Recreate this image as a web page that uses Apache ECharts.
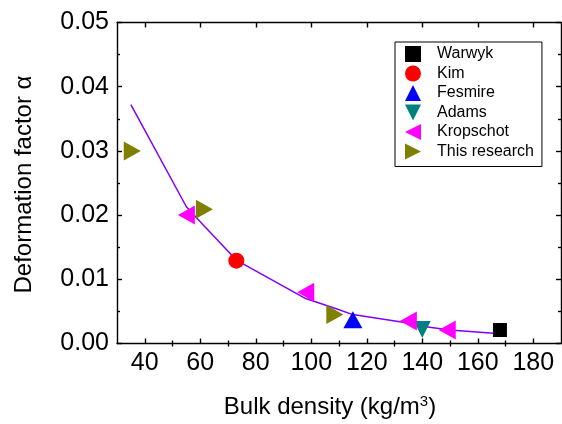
<!DOCTYPE html>
<html><head><meta charset="utf-8">
<script src="https://cdn.jsdelivr.net/npm/echarts@6/dist/echarts.min.js"></script>
<style>html,body{margin:0;padding:0;background:#fff}#c{width:562px;height:424px}</style>
</head><body><div id="c"></div>
<script>
const xTicks = [40, 60, 80, 100, 120, 140, 160, 180];
const xMinorTicks = [50, 70, 90, 110, 130, 150, 170];
const seriesNames = ['Warwyk', 'Kim', 'Fesmire', 'Adams', 'Kropschot', 'This research'];
const warwykX = [168];
const warwykY = [0.0021];
const kimX = [73];
const kimY = [0.0129];
const fesmireX = [115];
const fesmireY = [0.0037];
const adamsX = [140];
const adamsY = [0.0022];
const kropschotX = [55, 98, 135, 149];
const kropschotY = [0.0200, 0.0080, 0.0035, 0.0021];
const researchX = [35.5, 61.5, 108.5];
const researchY = [0.0300, 0.0209, 0.0045];
const fitX = [35, 55, 61, 73, 98, 109, 115, 136, 140, 150, 168];
const fitY = [0.0372, 0.0213, 0.0185, 0.0130, 0.0070, 0.0054, 0.0045, 0.0031, 0.0027, 0.0021, 0.0015];

const pairs = (xs, ys) => xs.map((x, i) => [x, ys[i]]);
const FONT = "'Liberation Sans', Arial, sans-serif";
const triUp = 'path://M5,0 L10,10 L0,10 Z';
const triDown = 'path://M0,0 L10,0 L5,10 Z';
const triLeft = 'path://M0,5 L10,0 L10,10 Z';
const triRight = 'path://M0,0 L10,5 L0,10 Z';

const lineStyle = { color: '#000', width: 1.4 };
const baseX = {
  type: 'value', min: 30, max: 190, splitLine: { show: false },
  axisLine: { show: true, onZero: false, lineStyle: lineStyle }
};
const baseY = {
  type: 'value', min: 0, max: 0.05, interval: 0.01, splitLine: { show: false },
  axisLine: { show: true, onZero: false, lineStyle: lineStyle },
  axisTick: { show: true, inside: true, length: 5, lineStyle: lineStyle },
  minorTick: { show: true, splitNumber: 2, length: 3, lineStyle: lineStyle }
};

const chart = echarts.init(document.getElementById('c'), null, { renderer: 'canvas' });
chart.setOption({
  animation: false,
  backgroundColor: '#fff',
  textStyle: { fontFamily: FONT },
  grid: { left: 117, right: 1, top: 22.5, bottom: 79, containLabel: false },
  legend: {
    data: seriesNames,
    orient: 'vertical',
    left: 395, top: 42,
    padding: [4, 8, 7, 10],
    itemWidth: 16, itemHeight: 16, itemGap: 3.5,
    borderColor: '#000', borderWidth: 1,
    textStyle: { fontFamily: FONT, fontSize: 16, color: '#000', padding: [0, 0, 0, 11] }
  },
  xAxis: [
    Object.assign({}, baseX, {
      position: 'bottom',
      axisTick: { show: true, inside: true, length: 5, customValues: xTicks, lineStyle: lineStyle },
      axisLabel: { show: true, customValues: xTicks, fontSize: 25, color: '#000', margin: 7, fontFamily: FONT },
      name: 'Bulk density (kg/m{sup|3})',
      nameLocation: 'middle', nameGap: 51,
      nameTextStyle: {
        fontSize: 24, color: '#000', fontFamily: FONT, padding: [0, 18, 0, 0],
        rich: { sup: { fontSize: 15, verticalAlign: 'top', color: '#000', fontFamily: FONT, padding: [0, 0, 10, 0] } }
      }
    }),
    Object.assign({}, baseX, {
      position: 'bottom', axisLine: { show: false },
      axisTick: { show: true, inside: true, length: 3, customValues: xMinorTicks, lineStyle: lineStyle },
      axisLabel: { show: false }
    }),
    Object.assign({}, baseX, {
      position: 'top',
      axisTick: { show: true, inside: true, length: 5, customValues: xTicks, lineStyle: lineStyle },
      axisLabel: { show: false }
    }),
    Object.assign({}, baseX, {
      position: 'top', axisLine: { show: false },
      axisTick: { show: true, inside: true, length: 3, customValues: xMinorTicks, lineStyle: lineStyle },
      axisLabel: { show: false }
    })
  ],
  yAxis: [
    Object.assign({}, baseY, {
      position: 'left',
      axisLabel: { show: true, fontSize: 25, color: '#000', margin: 8, fontFamily: FONT, formatter: v => v.toFixed(2) },
      name: 'Deformation factor α',
      nameLocation: 'middle', nameGap: 81,
      nameTextStyle: { fontSize: 24, color: '#000', fontFamily: FONT, padding: [0, 0, 0, -3] }
    }),
    Object.assign({}, baseY, {
      position: 'right',
      axisLabel: { show: false }
    })
  ],
  series: [
    { name: 'Fit', type: 'line', data: pairs(fitX, fitY), showSymbol: false, symbol: 'none',
      lineStyle: { color: '#8000FF', width: 1.5 }, itemStyle: { color: '#8000FF' }, z: 1 },
    { name: 'Warwyk', type: 'scatter', data: pairs(warwykX, warwykY), symbol: 'rect', symbolSize: 14,
      itemStyle: { color: '#000000', opacity: 1 }, z: 3 },
    { name: 'Kim', type: 'scatter', data: pairs(kimX, kimY), symbol: 'circle', symbolSize: 16,
      itemStyle: { color: '#FF0000', opacity: 1 }, z: 3 },
    { name: 'Fesmire', type: 'scatter', data: pairs(fesmireX, fesmireY), symbol: triUp, symbolSize: [19, 17],
      itemStyle: { color: '#0000FF', opacity: 1 }, z: 3 },
    { name: 'Adams', type: 'scatter', data: pairs(adamsX, adamsY), symbol: triDown, symbolSize: [17, 17],
      itemStyle: { color: '#008080', opacity: 1 }, z: 3 },
    { name: 'Kropschot', type: 'scatter', data: pairs(kropschotX, kropschotY), symbol: triLeft, symbolSize: [17, 19],
      itemStyle: { color: '#FF00FF', opacity: 1 }, z: 3 },
    { name: 'This research', type: 'scatter', data: pairs(researchX, researchY), symbol: triRight, symbolSize: [17, 19],
      itemStyle: { color: '#808000', opacity: 1 }, z: 3 }
  ]
});
</script>
</body></html>
